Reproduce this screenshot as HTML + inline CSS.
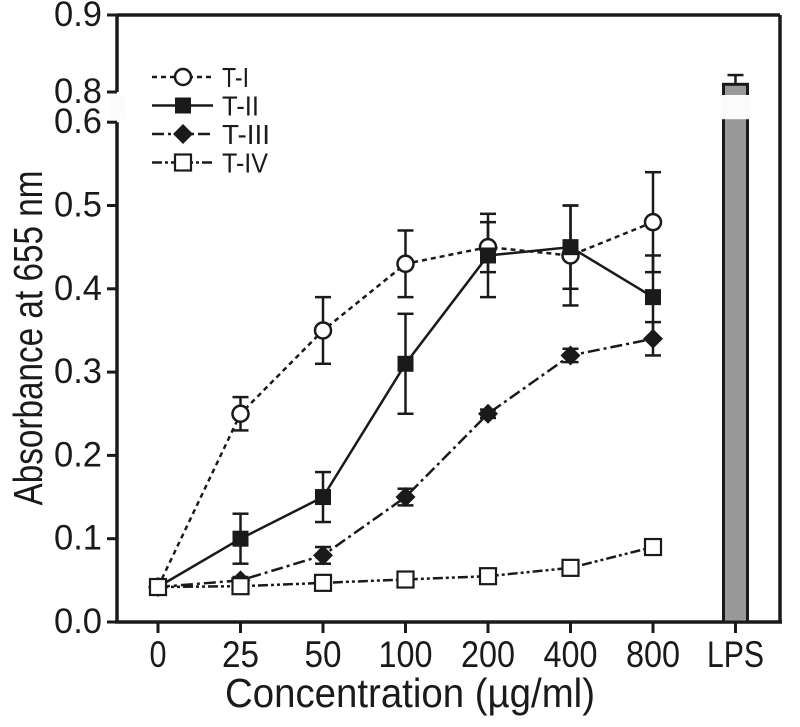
<!DOCTYPE html>
<html><head><meta charset="utf-8"><style>body{margin:0;background:#fff}svg{display:block;font-family:"Liberation Sans",sans-serif}
.yl{font-size:35px}.xl{font-size:37px}.lgt{font-size:28px}.ttl{font-size:41px}</style></head>
<body>
<svg id="c" width="800" height="727" viewBox="0 0 800 727">
<g id="g"></g>
</svg>
<script>
const categories=["0","25","50","100","200","400","800"];
const seriesNames=["T-I","T-II","T-III","T-IV"];
const t1=[0.042,0.25,0.35,0.43,0.45,0.44,0.48];
const t1err=[0,0.02,0.04,0.04,0.03,0.06,0.06];
const t2=[0.042,0.10,0.15,0.31,0.44,0.45,0.39];
const t2err=[0,0.03,0.03,0.06,0.05,0.05,0.05];
const t3=[0.042,0.05,0.08,0.15,0.25,0.32,0.34];
const t3err=[0,0.004,0.01,0.01,0.005,0.008,0.02];
const t4=[0.042,0.043,0.047,0.051,0.055,0.065,0.09];
const t4err=[0,0,0,0,0,0,0];
const lpsValue=0.81;
const lpsErr=0.012;
const yTicksLow=[0.0,0.1,0.2,0.3,0.4,0.5,0.6];
const yTicksHigh=[0.8,0.9];
const xTickLabels=["0","25","50","100","200","400","800","LPS"];

const NS="http://www.w3.org/2000/svg";
const g=document.getElementById('g');
function mk(tag,attrs,parent){const e=document.createElementNS(NS,tag);for(const k in attrs)e.setAttribute(k,attrs[k]);(parent||g).appendChild(e);return e;}
const L=117,R=780,B=622,T=15;
function y(v){ if(v<=0.6) return B-(v/0.1)*83.3; return 92-(v-0.8)/0.1*77; }
function x(i){return 158+i*82.5;}

let e;
e=mk('line',{x1:L,y1:T,x2:R,y2:T,stroke:'#1a1a1a','stroke-width':3.5});


e=mk('line',{x1:R,y1:T,x2:R,y2:B,stroke:'#1a1a1a','stroke-width':3.5});


e=mk('line',{x1:L-2,y1:B,x2:R+2,y2:B,stroke:'#1a1a1a','stroke-width':3.5});


e=mk('line',{x1:L,y1:T,x2:L,y2:92,stroke:'#1a1a1a','stroke-width':3.5});


e=mk('line',{x1:L,y1:y(0.6),x2:L,y2:B,stroke:'#1a1a1a','stroke-width':3.5});



yTicksLow.concat(yTicksHigh).forEach(v=>{
  const yy=y(v);
  e=mk('line',{x1:L-10,y1:yy,x2:L,y2:yy,stroke:'#1a1a1a','stroke-width':3});
  
  
  e=mk('text',{x:L-15,y:yy+11,class:'yl','text-anchor':'end',fill:'#1a1a1a',textLength:48,lengthAdjust:'spacingAndGlyphs'});
  e.textContent=v.toFixed(1);
  
  
});
const xw=[17,37,37,54,54,54,54,57];
xTickLabels.forEach((s,i)=>{
  const xx=x(i);
  e=mk('line',{x1:xx,y1:B,x2:xx,y2:B+11,stroke:'#1a1a1a','stroke-width':3});
  
  
  e=mk('text',{x:xx,y:B+45,class:'xl','text-anchor':'middle',fill:'#1a1a1a',textLength:xw[i],lengthAdjust:'spacingAndGlyphs'});
  e.textContent=s;
  
  
});

const bx=x(7);
e=mk('rect',{x:bx-12,y:y(lpsValue),width:24,height:B-y(lpsValue),fill:'#999',stroke:'#1a1a1a','stroke-width':3});


e=mk('line',{x1:bx,y1:y(lpsValue),x2:bx,y2:y(lpsValue+lpsErr),stroke:'#1a1a1a','stroke-width':2.5});


e=mk('line',{x1:bx-8,y1:y(lpsValue+lpsErr),x2:bx+8,y2:y(lpsValue+lpsErr),stroke:'#1a1a1a','stroke-width':2.5});



e=mk('rect',{x:L-6,y:95,width:14,height:y(0.6)-98,fill:'#fbfbfb'});


e=mk('rect',{x:bx-14,y:95,width:28,height:y(0.6)-98,fill:'#fbfbfb'});



const series=[
 {d:t1,err:t1err,dash:'5,4',m:'circle'},
 {d:t2,err:t2err,dash:'',m:'square'},
 {d:t3,err:t3err,dash:'12,4,3,4',m:'diamond'},
 {d:t4,err:t4err,dash:'10,3,3,3,3,3',m:'osquare'}];
function marker(m,cx,cy,parent,name){
  let el;
  if(m==='circle') el=mk('circle',{cx:cx,cy:cy,r:8,fill:'#fff',stroke:'#1a1a1a','stroke-width':2.5},parent);
  else if(m==='square') el=mk('rect',{x:cx-8,y:cy-8,width:16,height:16,fill:'#1a1a1a'},parent);
  else if(m==='diamond') el=mk('polygon',{points:`${cx},${cy-10} ${cx+10},${cy} ${cx},${cy+10} ${cx-10},${cy}`,fill:'#1a1a1a'},parent);
  else el=mk('rect',{x:cx-8,y:cy-8,width:16,height:16,fill:'#fff',stroke:'#1a1a1a','stroke-width':2.2},parent);
  
  
}
series.forEach((s,si)=>{
  const pts=s.d.map((v,i)=>x(i)+','+y(v)).join(' ');
  e=mk('polyline',{points:pts,fill:'none',stroke:'#1a1a1a','stroke-width':2.5,'stroke-dasharray':s.dash});
  
  
});
series.forEach((s,si)=>{
  s.d.forEach((v,i)=>{
    if(s.err[i]>0){
      const xx=x(i);
      e=mk('line',{x1:xx,y1:y(v-s.err[i]),x2:xx,y2:y(v+s.err[i]),stroke:'#1a1a1a','stroke-width':2.5});
      
      
      [v-s.err[i],v+s.err[i]].forEach(w=>{
        e=mk('line',{x1:xx-8,y1:y(w),x2:xx+8,y2:y(w),stroke:'#1a1a1a','stroke-width':2.5});
        
        
      });
    }
  });
});
series.forEach((s,si)=>{
  s.d.forEach((v,i)=>marker(s.m,x(i),y(v),g,'point-'+seriesNames[si].toLowerCase()));
});

const lg=mk('g',{});


const lw=[27,37,48,46];
series.forEach((s,si)=>{
  const ly=77+si*28.5;
  e=mk('line',{x1:152,y1:ly,x2:213,y2:ly,stroke:'#1a1a1a','stroke-width':2.5,'stroke-dasharray':s.dash},lg);
  
  
  marker(s.m,183,ly,lg,'legend-marker');
  e=mk('text',{x:222,y:ly+10,class:'lgt',fill:'#1a1a1a',textLength:lw[si],lengthAdjust:'spacingAndGlyphs'},lg);
  e.textContent=seriesNames[si];
  
  
});

e=mk('text',{x:410,y:707,class:'ttl','text-anchor':'middle',fill:'#1a1a1a',textLength:370,lengthAdjust:'spacingAndGlyphs'});
e.textContent='Concentration (\u00b5g/ml)';


e=mk('text',{x:0,y:0,class:'ttl','text-anchor':'middle',fill:'#1a1a1a',transform:'translate(42 338) rotate(-90)',textLength:335,lengthAdjust:'spacingAndGlyphs'});
e.textContent='Absorbance at 655 nm';


</script>
</body></html>
